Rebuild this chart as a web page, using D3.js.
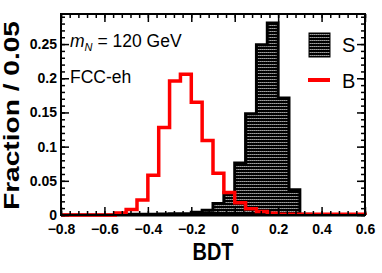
<!DOCTYPE html>
<html>
<head>
<meta charset="utf-8">
<script src="https://cdn.jsdelivr.net/npm/d3@7"></script>
<style>
  body { margin: 0; background: #fff; }
  svg { display: block; font-family: "Liberation Sans", Arial, sans-serif; }
</style>
</head>
<body>
<div class="container"></div>
<script>
// 28 bins of width 0.05 from -0.8 to 0.6
const binLow = d3.range(28).map((i) => Math.round((-0.8 + i * 0.05) * 100) / 100);
const binWidth = 0.05;

const signal = [
  0, 0, 0, 0, 0, 0,
  0.001, 0.001, 0.001, 0.0015, 0.002, 0.002, 0.004, 0.007,
  0.017, 0.033, 0.076, 0.148, 0.249, 0.281, 0.171, 0.037,
  0.001, 0, 0, 0, 0, 0,
];

const background = [
  0, 0, 0, 0, 0, 0.003,
  0.008, 0.022, 0.058, 0.128, 0.196, 0.206, 0.165, 0.109,
  0.061, 0.033, 0.018, 0.009, 0.005, 0.0025, 0.001, 0.001,
  0.001, 0.001, 0.001, 0.001, 0.001, 0.001,
];

const xMajorTicks = [-0.8, -0.6, -0.4, -0.2, 0, 0.2, 0.4, 0.6];
const yMajorTicks = [0, 0.05, 0.1, 0.15, 0.2, 0.25];

const width = 382;
const height = 273;
const frame = { left: 61, right: 365, top: 14, bottom: 215 };

const svg = d3
  .select(".container")
  .append("svg")
  .attr("width", width)
  .attr("height", height);

const x = d3.scaleLinear().domain([-0.8, 0.6]).range([frame.left, frame.right]);
const y = d3.scaleLinear().domain([0, 0.294]).range([frame.bottom, frame.top]);

// hatch-like fill for the signal histogram
const pattern = svg
  .append("defs")
  .append("pattern")
  .attr("id", "sigfill")
  .attr("patternUnits", "userSpaceOnUse")
  .attr("width", 2)
  .attr("height", 3);
pattern.append("rect").attr("width", 2).attr("height", 3).attr("fill", "#000");
pattern.append("rect").attr("x", 0).attr("y", 1).attr("width", 1).attr("height", 1).attr("fill", "#a0a0a0");
pattern.append("rect").attr("x", 1).attr("y", 1).attr("width", 1).attr("height", 1).attr("fill", "#707070");

function stepPoints(values) {
  const pts = [[x(binLow[0]), y(0)]];
  values.forEach((v, i) => {
    pts.push([x(binLow[i]), y(v)]);
    pts.push([x(binLow[i] + binWidth), y(v)]);
  });
  pts.push([x(binLow[binLow.length - 1] + binWidth), y(0)]);
  return pts;
}

const line = d3.line();

svg
  .append("path")
  .attr("d", line(stepPoints(signal)) + "Z")
  .attr("fill", "url(#sigfill)")
  .attr("stroke", "#000")
  .attr("stroke-width", 3)
  .attr("stroke-linejoin", "miter");

svg
  .append("path")
  .attr("d", line(stepPoints(background)))
  .attr("fill", "none")
  .attr("stroke", "#ff0000")
  .attr("stroke-width", 3.5)
  .attr("stroke-linejoin", "miter");

// axes, ticks pointing inward
const xMinor = d3.range(36).map((i) => Math.round((-0.8 + i * 0.04) * 100) / 100);
const yMinor = d3.range(30).map((i) => Math.round(i * 0.01 * 100) / 100);

const fmt = (d) => String(+d.toFixed(2)).replace("-", "\u2212");

function drawAxis(axis, transform, cls) {
  const g = svg.append("g").attr("class", cls).attr("transform", transform).call(axis);
  g.select(".domain").remove();
  g.selectAll("line").attr("stroke", "#000").attr("stroke-width", 1.5);
  return g;
}

drawAxis(d3.axisBottom(x).tickValues(xMinor).tickSize(-4).tickFormat(""), `translate(0,${frame.bottom})`, "xminor");
drawAxis(d3.axisTop(x).tickValues(xMinor).tickSize(-4).tickFormat(""), `translate(0,${frame.top})`, "xminor");
drawAxis(d3.axisTop(x).tickValues(xMajorTicks).tickSize(-8).tickFormat(""), `translate(0,${frame.top})`, "xmajor");
const xAxis = drawAxis(
  d3.axisBottom(x).tickValues(xMajorTicks).tickSize(-8).tickPadding(9).tickFormat(fmt),
  `translate(0,${frame.bottom})`,
  "xaxis"
);

drawAxis(d3.axisLeft(y).tickValues(yMinor).tickSize(-4).tickFormat(""), `translate(${frame.left},0)`, "yminor");
drawAxis(d3.axisRight(y).tickValues(yMinor).tickSize(-4).tickFormat(""), `translate(${frame.right},0)`, "yminor");
drawAxis(d3.axisRight(y).tickValues(yMajorTicks).tickSize(-8).tickFormat(""), `translate(${frame.right},0)`, "ymajor");
const yAxis = drawAxis(
  d3.axisLeft(y).tickValues(yMajorTicks).tickSize(-8).tickPadding(4).tickFormat(fmt),
  `translate(${frame.left},0)`,
  "yaxis"
);

[xAxis, yAxis].forEach((g) =>
  g
    .selectAll("text")
    .attr("fill", "#000")
    .style("font-family", "Liberation Sans, Arial, sans-serif")
    .style("font-size", "14px")
    .style("font-weight", "bold")
);

svg
  .append("rect")
  .attr("x", frame.left)
  .attr("y", frame.top)
  .attr("width", frame.right - frame.left)
  .attr("height", frame.bottom - frame.top)
  .attr("fill", "none")
  .attr("stroke", "#000")
  .attr("stroke-width", 2);

// axis titles
svg
  .append("text")
  .attr("x", 213)
  .attr("y", 260)
  .attr("text-anchor", "middle")
  .attr("font-size", 23)
  .attr("font-weight", "bold")
  .attr("textLength", 41)
  .attr("lengthAdjust", "spacingAndGlyphs")
  .text("BDT");

svg
  .append("text")
  .attr("transform", "translate(19,115.5) rotate(-90)")
  .attr("text-anchor", "middle")
  .attr("font-size", 22)
  .attr("font-weight", "bold")
  .attr("textLength", 189)
  .attr("lengthAdjust", "spacingAndGlyphs")
  .text("Fraction / 0.05");

// labels
const label = svg.append("text").attr("x", 70).attr("y", 47).attr("font-size", 17.5);
label.append("tspan").attr("font-style", "italic").text("m");
label.append("tspan").attr("font-style", "italic").attr("font-size", 11).attr("dy", 4).text("N");
label.append("tspan").attr("dy", -4).text(" = 120 GeV");

svg.append("text").attr("x", 70).attr("y", 83).attr("font-size", 17.5).text("FCC-eh");

// legend
svg
  .append("rect")
  .attr("x", 309)
  .attr("y", 33)
  .attr("width", 21)
  .attr("height", 24)
  .attr("fill", "url(#sigfill)")
  .attr("stroke", "#000")
  .attr("stroke-width", 1);
svg.append("text").attr("x", 342).attr("y", 52).attr("font-size", 20).text("S");

svg
  .append("line")
  .attr("x1", 308)
  .attr("x2", 330)
  .attr("y1", 80)
  .attr("y2", 80)
  .attr("stroke", "#ff0000")
  .attr("stroke-width", 4);
svg.append("text").attr("x", 342).attr("y", 88).attr("font-size", 20).text("B");
</script>
</body>
</html>
